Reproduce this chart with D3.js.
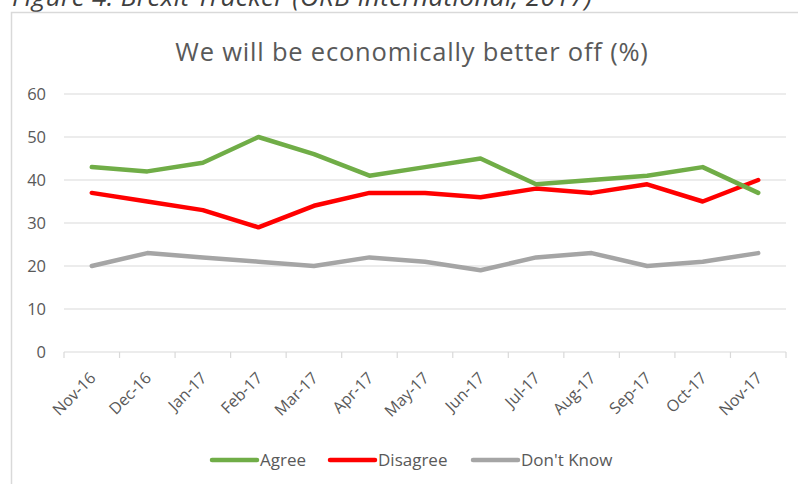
<!DOCTYPE html>
<html>
<head>
<meta charset="utf-8">
<script src="https://cdn.jsdelivr.net/npm/d3@7"></script>
<style>
  body { margin: 0; background: #fff; }
  text { font-family: "Open Sans", sans-serif; }
</style>
</head>
<body>
<div id="chart"></div>
<script>
var months = ['Nov-16', 'Dec-16', 'Jan-17', 'Feb-17', 'Mar-17', 'Apr-17', 'May-17',
              'Jun-17', 'Jul-17', 'Aug-17', 'Sep-17', 'Oct-17', 'Nov-17'];
var agree = [43, 42, 44, 50, 46, 41, 43, 45, 39, 40, 41, 43, 37];
var disagree = [37, 35, 33, 29, 34, 37, 37, 36, 38, 37, 39, 35, 40];
var dontKnow = [20, 23, 22, 21, 20, 22, 21, 19, 22, 23, 20, 21, 23];
var yTicks = [0, 10, 20, 30, 40, 50, 60];

var width = 798,
    height = 484;

var svg = d3.select('#chart').append('svg')
  .attr('width', width)
  .attr('height', height);

// caption above the chart box (cut off at the top)
svg.append('text')
  .attr('x', 12)
  .attr('y', 6)
  .attr('font-size', '26px')
  .attr('font-style', 'italic')
  .attr('fill', '#404040')
  .attr('textLength', 580)
  .text('Figure 4: Brexit Tracker (ORB International, 2017)');

// chart box
svg.append('rect')
  .attr('x', 11.5)
  .attr('y', 12.5)
  .attr('width', 800)
  .attr('height', 500)
  .attr('fill', '#fff')
  .attr('stroke', '#d9d9d9')
  .attr('stroke-width', 1.5);

svg.append('text')
  .attr('x', 412)
  .attr('y', 61)
  .attr('text-anchor', 'middle')
  .attr('font-size', '25.5px')
  .attr('letter-spacing', '0.8px')
  .attr('fill', '#595959')
  .text('We will be economically better off (%)');

var x = d3.scaleBand()
  .domain(months)
  .range([64, 786]);

var y = d3.scaleLinear()
  .domain([0, 60])
  .range([352, 94]);

// gridlines
svg.append('g').selectAll('line')
  .data(yTicks.slice(1))
  .enter().append('line')
  .attr('x1', 64)
  .attr('x2', 786)
  .attr('y1', function(d) { return y(d); })
  .attr('y2', function(d) { return y(d); })
  .attr('stroke', '#d9d9d9')
  .attr('stroke-width', 1.2);

// y labels
svg.append('g').selectAll('text')
  .data(yTicks)
  .enter().append('text')
  .attr('x', 46)
  .attr('y', function(d) { return y(d); })
  .attr('dy', '0.35em')
  .attr('text-anchor', 'end')
  .attr('font-size', '16.5px')
  .attr('fill', '#595959')
  .text(function(d) { return d; });

// x axis line + ticks
svg.append('line')
  .attr('x1', 64).attr('x2', 786)
  .attr('y1', y(0)).attr('y2', y(0))
  .attr('stroke', '#d9d9d9')
  .attr('stroke-width', 1.2);

var tickPos = months.map(function(m) { return x(m); }).concat([786]);
svg.append('g').selectAll('line')
  .data(tickPos)
  .enter().append('line')
  .attr('x1', function(d) { return d; })
  .attr('x2', function(d) { return d; })
  .attr('y1', y(0))
  .attr('y2', y(0) + 6)
  .attr('stroke', '#d9d9d9')
  .attr('stroke-width', 1.2);

// x labels, rotated
svg.append('g').selectAll('text')
  .data(months)
  .enter().append('text')
  .attr('transform', function(d) {
    return 'translate(' + (x(d) + x.bandwidth() / 2 + 5) + ',' + (y(0) + 27) + ') rotate(-45)';
  })
  .attr('text-anchor', 'end')
  .attr('font-size', '16px')
  .attr('fill', '#595959')
  .text(function(d) { return d; });

var series = [
  { name: 'Agree', values: agree, color: '#70ad47' },
  { name: 'Disagree', values: disagree, color: '#ff0000' },
  { name: "Don't Know", values: dontKnow, color: '#a5a5a5' }
];

var line = d3.line()
  .x(function(d, i) { return x(months[i]) + x.bandwidth() / 2; })
  .y(function(d) { return y(d); });

// draw grey first, green on top as in the original
svg.append('g').selectAll('path')
  .data(series.slice().reverse())
  .enter().append('path')
  .attr('d', function(d) { return line(d.values); })
  .attr('fill', 'none')
  .attr('stroke', function(d) { return d.color; })
  .attr('stroke-width', 4.5)
  .attr('stroke-linejoin', 'round')
  .attr('stroke-linecap', 'round');

// legend
var legendX = [212, 330, 473];
var legend = svg.append('g').selectAll('g')
  .data(series)
  .enter().append('g')
  .attr('transform', function(d, i) { return 'translate(' + legendX[i] + ',460)'; });

legend.append('line')
  .attr('x1', 0).attr('x2', 45)
  .attr('stroke', function(d) { return d.color; })
  .attr('stroke-width', 4.5)
  .attr('stroke-linecap', 'round');

legend.append('text')
  .attr('x', 48)
  .attr('dy', '0.35em')
  .attr('font-size', '17px')
  .attr('fill', '#595959')
  .text(function(d) { return d.name; });
</script>
</body>
</html>
